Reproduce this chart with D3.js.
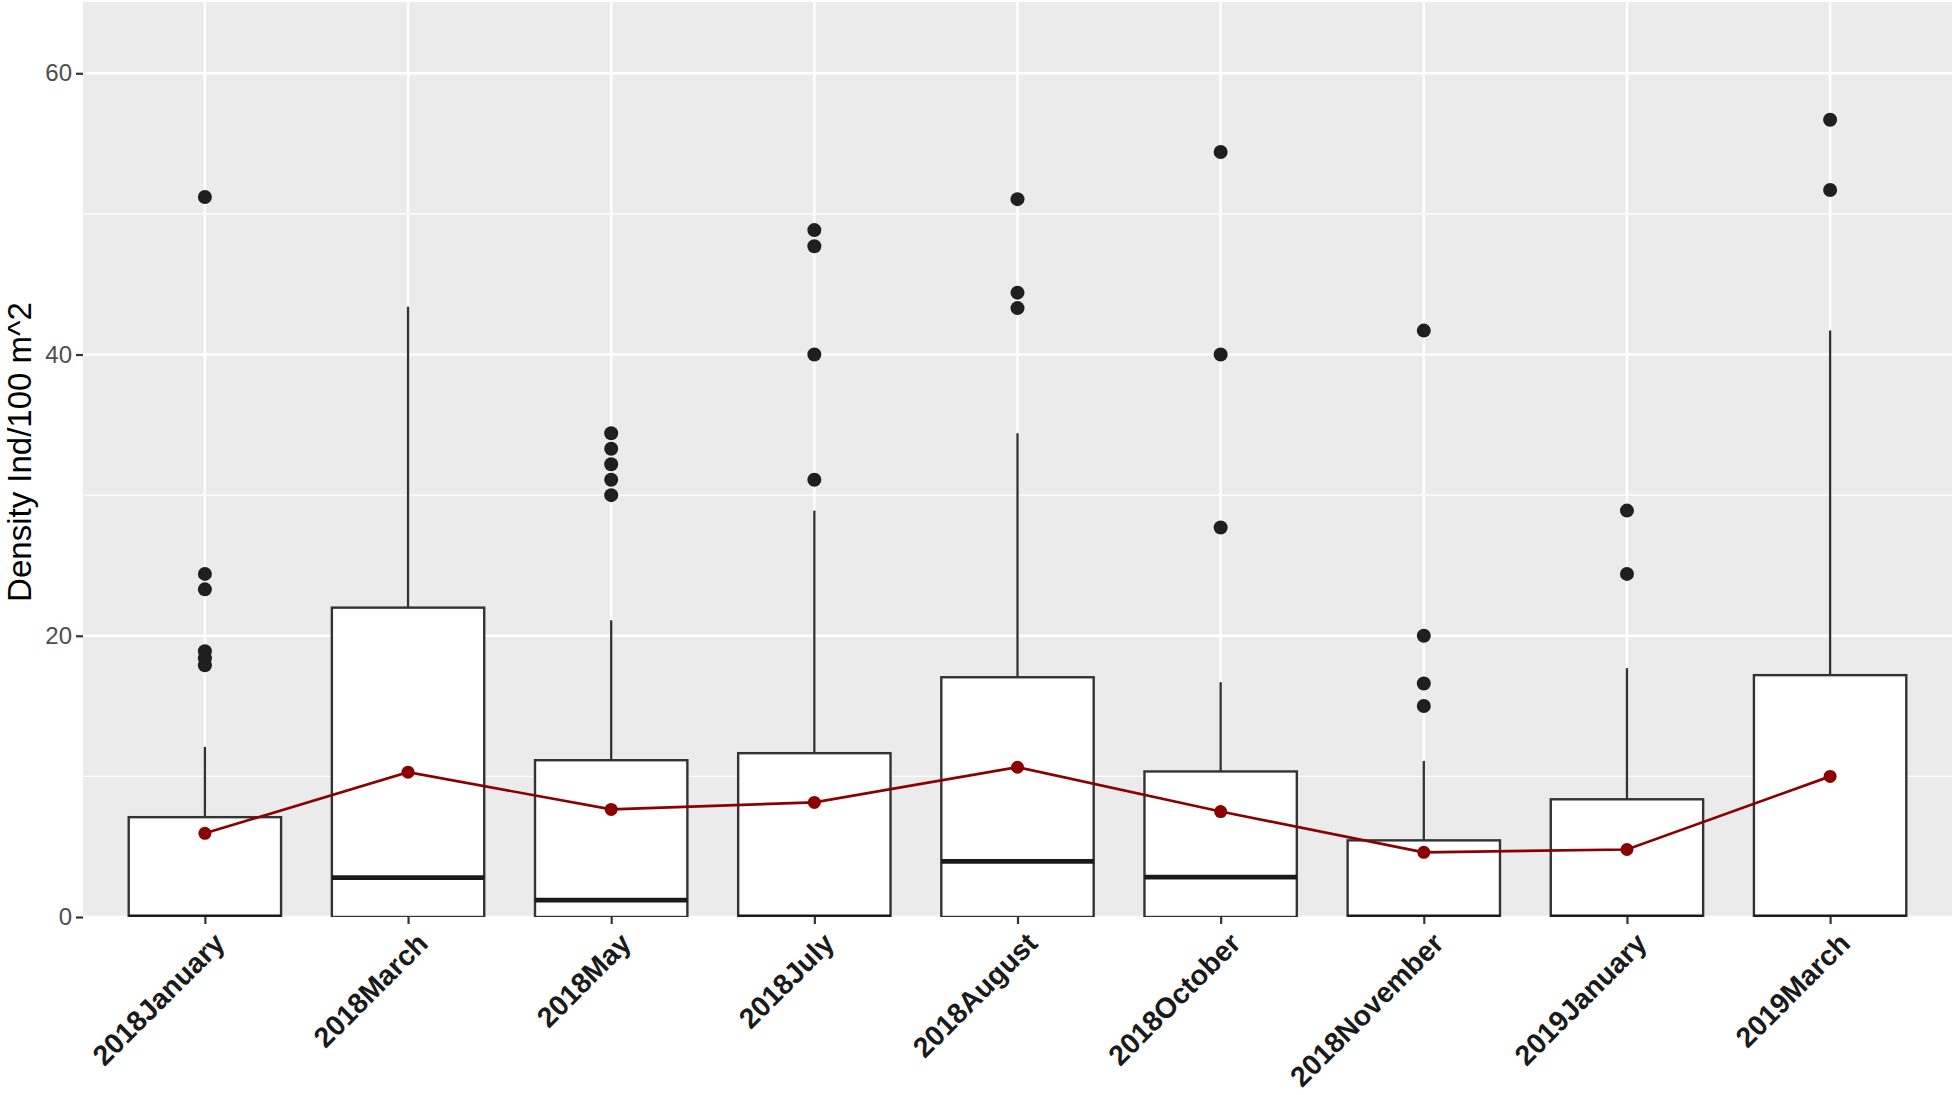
<!DOCTYPE html>
<html>
<head>
<meta charset="utf-8">
<script src="https://cdn.jsdelivr.net/npm/d3@7"></script>
<style>
  html, body { margin: 0; padding: 0; background: #fff; }
  svg text { font-family: "Liberation Sans", Arial, Helvetica, sans-serif; }
</style>
</head>
<body>
<svg id="chart" width="1955" height="1095"></svg>
<script>
// 采样月份（x 轴类别）
const months = ['2018January', '2018March', '2018May', '2018July', '2018August',
    '2018October', '2018November', '2019January', '2019March'];

// 箱线图统计量
const q1Values = [0, 0, 0, 0, 0, 0, 0, 0, 0];
const medianValues = [0, 2.8, 1.2, 0, 3.95, 2.83, 0, 0, 0];
const q3Values = [7.1, 22.0, 11.15, 11.65, 17.05, 10.35, 5.45, 8.37, 17.2];
const whiskerLow = [0, 0, 0, 0, 0, 0, 0, 0, 0];
const whiskerHigh = [12.1, 43.4, 21.1, 28.9, 34.4, 16.7, 11.1, 17.7, 41.7];

// 离群点
const outlierValues = [
    [51.2, 24.4, 23.3, 18.9, 18.4, 17.9],
    [],
    [34.4, 33.3, 32.2, 31.1, 30.0],
    [48.85, 47.7, 40.0, 31.1],
    [51.05, 44.4, 43.3],
    [54.4, 40.0, 27.7],
    [41.7, 20.0, 16.6, 15.0],
    [28.9, 24.4],
    [56.7, 51.7]
];

// 均值折线
const meanValues = [5.95, 10.3, 7.65, 8.15, 10.65, 7.5, 4.6, 4.8, 10.0];

// y 轴刻度
const yMajorTicks = [0, 20, 40, 60];
const yMinorTicks = [10, 30, 50];

const svg = d3.select('#chart');

// 面板区域
const panel = { left: 83, right: 1952, top: 2, bottom: 917 };

const x = d3.scalePoint()
    .domain(months)
    .range([panel.left, panel.right])
    .padding(0.6);

const y = d3.scaleLinear()
    .domain([0, 65.07])
    .range([panel.bottom, panel.top]);

const boxWidth = x.step() * 0.75;

// 面板裁剪
svg.append('defs').append('clipPath')
    .attr('id', 'panel-clip')
    .append('rect')
    .attr('x', panel.left)
    .attr('y', panel.top)
    .attr('width', panel.right - panel.left)
    .attr('height', panel.bottom - panel.top);

// 背景
svg.append('rect')
    .attr('x', panel.left)
    .attr('y', panel.top)
    .attr('width', panel.right - panel.left)
    .attr('height', panel.bottom - panel.top)
    .attr('fill', '#EBEBEB');

// 网格线
const grid = svg.append('g');
grid.selectAll('.minor')
    .data(yMinorTicks)
    .enter().append('line')
    .attr('x1', panel.left).attr('x2', panel.right)
    .attr('y1', d => y(d)).attr('y2', d => y(d))
    .attr('stroke', '#fff').attr('stroke-width', 1.2);
grid.selectAll('.major')
    .data(yMajorTicks)
    .enter().append('line')
    .attr('x1', panel.left).attr('x2', panel.right)
    .attr('y1', d => y(d)).attr('y2', d => y(d))
    .attr('stroke', '#fff').attr('stroke-width', 2.4);
grid.selectAll('.vmajor')
    .data(months)
    .enter().append('line')
    .attr('x1', d => x(d)).attr('x2', d => x(d))
    .attr('y1', panel.top).attr('y2', panel.bottom)
    .attr('stroke', '#fff').attr('stroke-width', 2.4);

// 箱线数据
const boxes = months.map((m, i) => ({
    month: m,
    q1: q1Values[i],
    median: medianValues[i],
    q3: q3Values[i],
    lo: whiskerLow[i],
    hi: whiskerHigh[i],
    outliers: outlierValues[i]
}));

const boxG = svg.append('g')
    .attr('clip-path', 'url(#panel-clip)')
    .selectAll('g')
    .data(boxes)
    .enter().append('g');

// 须线
boxG.append('line')
    .attr('x1', d => x(d.month)).attr('x2', d => x(d.month))
    .attr('y1', d => y(d.q3)).attr('y2', d => y(d.hi))
    .attr('stroke', '#333').attr('stroke-width', 2.3);
boxG.append('line')
    .attr('x1', d => x(d.month)).attr('x2', d => x(d.month))
    .attr('y1', d => y(d.q1)).attr('y2', d => y(d.lo))
    .attr('stroke', '#333').attr('stroke-width', 2.3);

// 箱体
boxG.append('rect')
    .attr('x', d => x(d.month) - boxWidth / 2)
    .attr('y', d => y(d.q3))
    .attr('width', boxWidth)
    .attr('height', d => y(d.q1) - y(d.q3))
    .attr('fill', '#fff')
    .attr('stroke', '#333')
    .attr('stroke-width', 2.4);

// 中位数
boxG.append('line')
    .attr('x1', d => x(d.month) - boxWidth / 2)
    .attr('x2', d => x(d.month) + boxWidth / 2)
    .attr('y1', d => y(d.median)).attr('y2', d => y(d.median))
    .attr('stroke', '#1a1a1a').attr('stroke-width', 4.8);

// 离群点
boxG.selectAll('.outlier')
    .data(d => d.outliers.map(v => ({ month: d.month, v })))
    .enter().append('circle')
    .attr('cx', d => x(d.month))
    .attr('cy', d => y(d.v))
    .attr('r', 7)
    .attr('fill', '#1f1f1f');

// 均值折线
const meanData = months.map((m, i) => ({ month: m, v: meanValues[i] }));
svg.append('path')
    .datum(meanData)
    .attr('d', d3.line().x(d => x(d.month)).y(d => y(d.v)))
    .attr('fill', 'none')
    .attr('stroke', '#8B0000')
    .attr('stroke-width', 2.7);
svg.append('g')
    .selectAll('circle')
    .data(meanData)
    .enter().append('circle')
    .attr('cx', d => x(d.month))
    .attr('cy', d => y(d.v))
    .attr('r', 6.5)
    .attr('fill', '#8B0000');

// y 轴
const yAxis = svg.append('g')
    .attr('transform', `translate(${panel.left},0)`)
    .call(d3.axisLeft(y).tickValues(yMajorTicks).tickSize(7).tickPadding(4));
yAxis.select('.domain').remove();
yAxis.selectAll('line').attr('stroke', '#333').attr('stroke-width', 2.2);
yAxis.selectAll('text')
    .attr('fill', '#4D4D4D')
    .style('font-size', '24px');

// x 轴
const xAxis = svg.append('g')
    .attr('transform', `translate(0,${panel.bottom})`)
    .call(d3.axisBottom(x).tickSize(7).tickPadding(0));
xAxis.select('.domain').remove();
xAxis.selectAll('line').attr('stroke', '#333').attr('stroke-width', 2.2);
xAxis.selectAll('text')
    .attr('fill', '#1a1a1a')
    .style('font-size', '28.5px')
    .style('font-weight', 'bold')
    .attr('text-anchor', 'end')
    .attr('y', 0)
    .attr('dy', '0.75em')
    .attr('transform', 'translate(6,13) rotate(-45)');

// y 轴标题
svg.append('text')
    .attr('transform', `translate(31,452) rotate(-90)`)
    .attr('text-anchor', 'middle')
    .attr('fill', '#000')
    .style('font-size', '33px')
    .text('Density Ind/100 m^2');
</script>
</body>
</html>
